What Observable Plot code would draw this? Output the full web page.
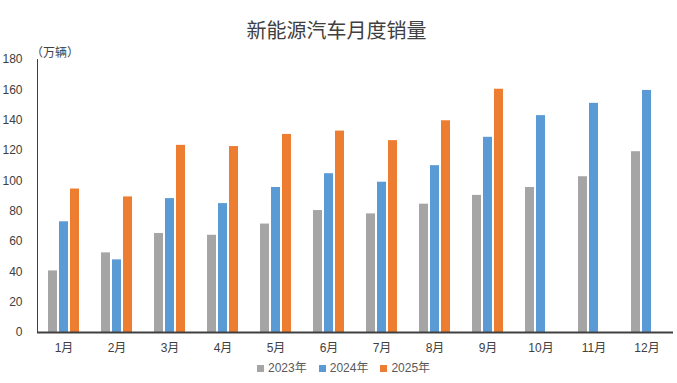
<!DOCTYPE html>
<html>
<head>
<meta charset="utf-8">
<script src="https://cdn.jsdelivr.net/npm/d3@7"></script>
<script src="https://cdn.jsdelivr.net/npm/@observablehq/plot@0.6"></script>
<style>
  body { margin: 0; background: #fff; }
  #wrap { position: relative; width: 677px; height: 383px; font-family: "Liberation Sans", "Noto Sans CJK SC", sans-serif; color: #404040; }
  #title { position: absolute; left: 0; top: 17px; width: 673px; text-align: center; font-family: "Noto Sans CJK SC", sans-serif; font-size: 20px; line-height: 26px; color: #404040; }
  #unit { position: absolute; left: 31px; top: 44px; font-size: 12px; line-height: 16px; color: #404040; font-family: "Noto Sans CJK SC", sans-serif; }
  #chart { position: absolute; left: 0; top: 40px; }
  #legend { position: absolute; left: 257px; top: 360px; display: flex; align-items: center; font-size: 12px; line-height: 16px; color: #595959; }
  .item { display: flex; align-items: center; margin-right: 12px; }
  .sw { width: 7px; height: 7px; margin-right: 4px; }
</style>
</head>
<body>
<div id="wrap">
  <div id="title"></div>
  <div id="unit"></div>
  <div id="chart"></div>
  <div id="legend"></div>
</div>
<script>
const titleText = "新能源汽车月度销量";
const unitText = "（万辆）";
const months = ["1月","2月","3月","4月","5月","6月","7月","8月","9月","10月","11月","12月"];
const years = ["2023年","2024年","2025年"];
const sales2023 = [40.6, 52.5, 65.3, 64.1, 71.5, 80.4, 78.2, 84.6, 90.4, 95.6, 102.7, 119.2];
const sales2024 = [73.0, 47.9, 88.3, 85.0, 95.6, 104.7, 99.1, 110.0, 128.7, 143.0, 151.1, 159.6];
const sales2025 = [94.6, 89.4, 123.4, 122.6, 130.6, 132.8, 126.5, 139.6, 160.4, null, null, null];
const yTicks = [0, 20, 40, 60, 80, 100, 120, 140, 160, 180];
const colors = ["#A5A5A5", "#5B9BD5", "#ED7D31"];

const series = [sales2023, sales2024, sales2025];
const table = [];
months.forEach((m, i) => {
  years.forEach((y, j) => {
    const v = series[j][i];
    if (v != null) table.push({month: m, year: y, value: v});
  });
});

document.getElementById("title").textContent = titleText;
document.getElementById("unit").textContent = unitText;

const chart = Plot.plot({
  width: 677,
  height: 322,
  marginTop: 19,
  marginBottom: 30,
  marginLeft: 37,
  marginRight: 4,
  style: {fontFamily: '"Liberation Sans", "Noto Sans CJK SC", sans-serif', fontSize: "12px", color: "#404040", background: "transparent"},
  fx: {domain: months, padding: 0, axis: "bottom", label: null, tickSize: 0, tickPadding: 11},
  x: {domain: years, axis: null, paddingInner: 0.21, paddingOuter: 0.83},
  y: {domain: [0, 180], ticks: yTicks, tickSize: 0, tickPadding: 15, label: null, line: true},
  color: {domain: years, range: colors},
  marks: [
    Plot.barY(table, {fx: "month", x: "year", y: "value", fill: "year"}),
    Plot.ruleY([0], {stroke: "#404040", strokeWidth: 2})
  ]
});
document.getElementById("chart").appendChild(chart);

const legend = document.getElementById("legend");
years.forEach((y, j) => {
  const item = document.createElement("div");
  item.className = "item";
  const sw = document.createElement("div");
  sw.className = "sw";
  sw.style.background = colors[j];
  const t = document.createElement("span");
  t.textContent = y;
  item.appendChild(sw);
  item.appendChild(t);
  legend.appendChild(item);
});
</script>
</body>
</html>
